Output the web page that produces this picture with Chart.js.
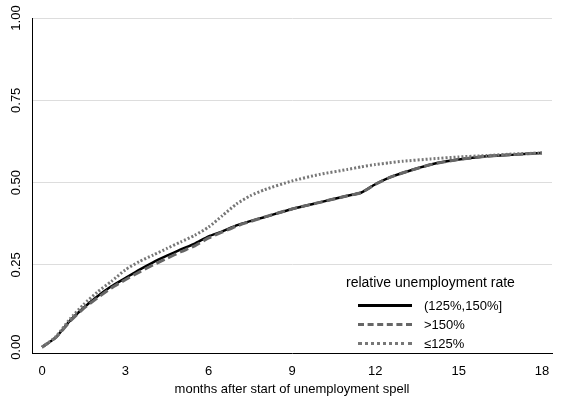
<!DOCTYPE html>
<html>
<head>
<meta charset="utf-8">
<script src="https://cdn.jsdelivr.net/npm/chart.js@4"></script>
<style>
  body { margin: 0; background: #fff; font-family: Arial, "Liberation Sans", sans-serif; }
  #wrap { position: relative; width: 561px; height: 401px; }
  #legend { position: absolute; left: 336px; top: 270px; width: 216px; height: 80px; background: #fff; font-size: 13px; color: #000; }
  #legend .title { font-size: 14px; margin: 4px 0 6px 10px; }
  #legend .row { display: flex; align-items: center; height: 19px; margin-left: 22px; }
  #legend .sw { width: 54px; height: 0; margin-right: 12px; }
</style>
</head>
<body>
<div id="wrap">
  <canvas id="c" width="561" height="401"></canvas>
  <div id="legend">
    <div class="title">relative unemployment rate</div>
    <div class="row"><span class="sw" style="border-top:3px solid #000"></span>(125%,150%]</div>
    <div class="row"><span class="sw" style="border-top:3px dashed #666"></span>&gt;150%</div>
    <div class="row"><span class="sw" style="border-top:3px dotted #777"></span>≤125%</div>
  </div>
</div>
<script>
// months after start of spell
const months = [0, 0.5, 1, 1.5, 2, 2.5, 3, 3.5, 4, 4.5, 5, 5.5, 6, 6.5, 7, 7.5, 8, 9, 10, 11, 11.5, 12, 12.5, 13, 14, 15, 16, 17, 18];
const mid = [0, 0.03, 0.08, 0.12, 0.155, 0.185, 0.21, 0.235, 0.258, 0.278, 0.297, 0.315, 0.337, 0.352, 0.37, 0.383, 0.395, 0.42, 0.44, 0.46, 0.47, 0.495, 0.515, 0.53, 0.555, 0.57, 0.58, 0.585, 0.59];
const high = [0, 0.03, 0.078, 0.118, 0.15, 0.18, 0.205, 0.228, 0.25, 0.27, 0.29, 0.308, 0.332, 0.35, 0.368, 0.382, 0.395, 0.42, 0.44, 0.46, 0.47, 0.495, 0.515, 0.53, 0.555, 0.57, 0.58, 0.585, 0.59];
const low = [0, 0.032, 0.085, 0.13, 0.168, 0.2, 0.235, 0.26, 0.28, 0.3, 0.32, 0.34, 0.365, 0.4, 0.435, 0.46, 0.478, 0.505, 0.525, 0.54, 0.548, 0.555, 0.56, 0.565, 0.572, 0.578, 0.582, 0.587, 0.59];
const xTicks = [0, 3, 6, 9, 12, 15, 18];
const yTicks = [0, 0.25, 0.5, 0.75, 1];
const yLabels = ['0.00', '0.25', '0.50', '0.75', '1.00'];

const pts = arr => months.map((m, i) => ({ x: m, y: arr[i] }));

const yLabelPlugin = {
  id: 'yLabels',
  afterDraw(chart) {
    const ctx = chart.ctx, y = chart.scales.y, left = y.right - 16;
    ctx.save();
    ctx.font = '13px Arial, "Liberation Sans", sans-serif';
    ctx.fillStyle = '#000';
    ctx.textAlign = 'center';
    ctx.textBaseline = 'middle';
    yTicks.forEach((v, i) => {
      ctx.save();
      ctx.translate(left, y.getPixelForValue(v));
      ctx.rotate(-Math.PI / 2);
      ctx.fillText(yLabels[i], 0, 0);
      ctx.restore();
    });
    ctx.restore();
  }
};

new Chart(document.getElementById('c'), {
  type: 'line',
  data: {
    datasets: [
      { data: pts(low), borderColor: '#777', borderDash: [2, 2], borderWidth: 3 },
      { data: pts(high), borderColor: '#666', borderDash: [9, 4], borderWidth: 3 },
      { data: pts(mid), borderColor: '#000', borderWidth: 2.5 }
    ]
  },
  options: {
    responsive: false,
    animation: false,
    layout: { padding: { top: 18, right: 9, left: 0, bottom: 0 } },
    elements: { point: { radius: 0 }, line: { tension: 0.2 } },
    plugins: { legend: { display: false }, tooltip: { enabled: false } },
    scales: {
      x: {
        type: 'linear', min: -0.36, max: 18.36,
        afterBuildTicks: s => { s.ticks = xTicks.map(v => ({ value: v })); },
        grid: { display: false, drawTicks: true },
        border: { color: '#000' },
        ticks: { color: '#000', font: { size: 13 }, padding: 2 },
        title: { display: true, text: 'months after start of unemployment spell', color: '#000', font: { size: 13 }, padding: { top: 0 } }
      },
      y: {
        min: -0.02, max: 1.0,
        afterBuildTicks: s => { s.ticks = yTicks.map(v => ({ value: v })); },
        afterFit: s => { s.width = 32; },
        grid: { color: ctx => ctx.tick && ctx.tick.value > 0 ? '#ddd' : 'rgba(0,0,0,0)', drawTicks: false },
        border: { color: '#000' },
        ticks: { color: 'rgba(0,0,0,0)', font: { size: 13 } }
      }
    }
  },
  plugins: [yLabelPlugin]
});
</script>
</body>
</html>
